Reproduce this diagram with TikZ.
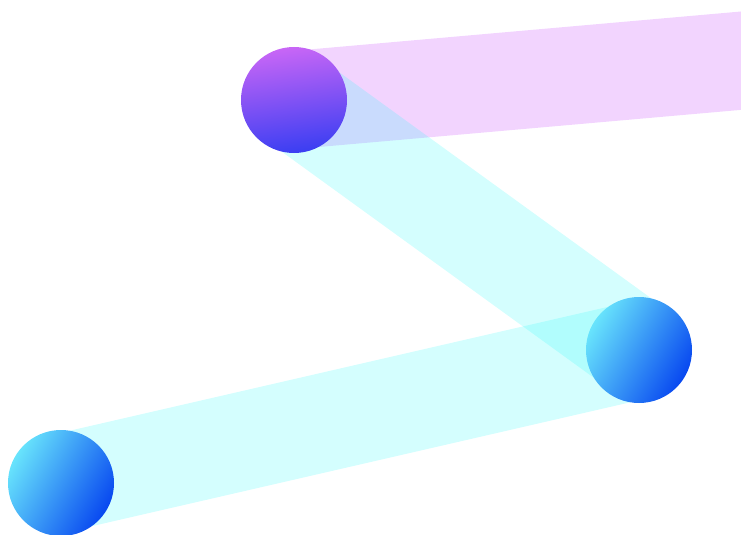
\documentclass[tikz,border=0pt]{standalone}
\definecolor{bandcyan}{RGB}{40,250,250}
\definecolor{bandpurple}{RGB}{190,40,252}
\definecolor{ballpurple}{RGB}{200,102,246}
\definecolor{ballindigo}{RGB}{58,62,242}
\definecolor{balllight}{RGB}{104,228,252}
\definecolor{balldark}{RGB}{8,72,240}
\tikzset{
  bandc/.style={draw=bandcyan, line width=98pt, draw opacity=0.2, line cap=butt},
  bandp/.style={draw=bandpurple, line width=98pt, draw opacity=0.2, line cap=butt},
  ballp/.style={circle, minimum size=106pt, inner sep=0pt, top color=ballpurple, bottom color=ballindigo, shading angle=8},
  ballb/.style={circle, minimum size=106pt, inner sep=0pt, top color=balllight, bottom color=balldark, shading angle=60}
}
\begin{document}
\begin{tikzpicture}[x=1pt,y=-1pt]
\useasboundingbox (0,0) rectangle (741,535);
\clip (0,0) rectangle (741,535);
\coordinate (c1) at (294,100);
\coordinate (c2) at (639,350);
\coordinate (c3) at (61,483);
\coordinate (pend) at (800,55.5);
\draw[bandp] (c1) -- (pend);
\draw[bandc] (c1) -- (c2);
\draw[bandc] (c2) -- (c3);
\node[ballp] (b1) at (c1) {};
\node[ballb] (b2) at (c2) {};
\node[ballb] (b3) at (c3) {};
\end{tikzpicture}
\end{document}
